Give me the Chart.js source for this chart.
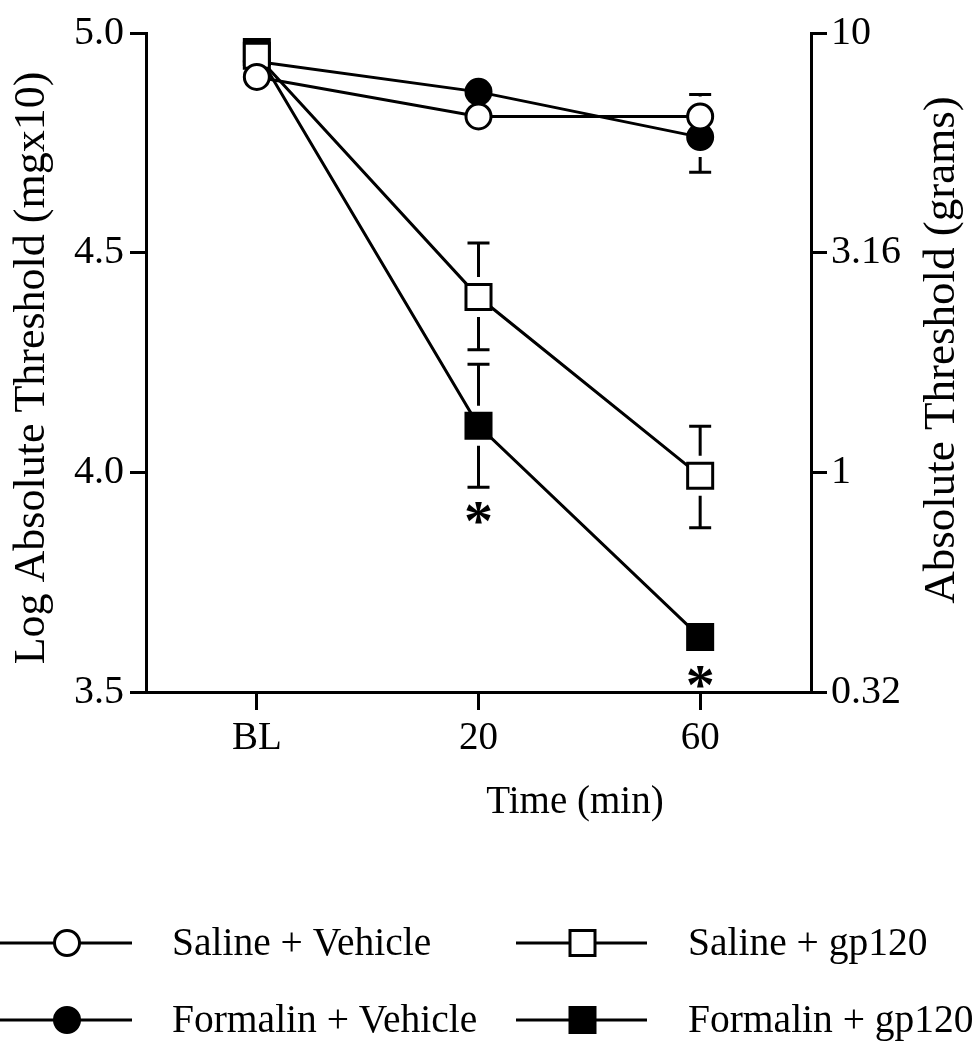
<!DOCTYPE html>
<html>
<head>
<meta charset="utf-8">
<script src="https://cdn.jsdelivr.net/npm/chart.js@4.4.0/dist/chart.umd.min.js"></script>
<style>
  html, body { margin: 0; padding: 0; background: #fff; }
  canvas { display: block; }
</style>
</head>
<body>
<canvas id="chart" width="975" height="1050"></canvas>
<script>
// values (error bars: only the visible halves)
const timeLabels = ['BL', '20', '60'];
const salineVehicle = [4.90, 4.81, 4.81];
const salineVehicleErrUp = [0, 0, 0.05];
const salineVehicleErrDown = [0, 0, 0];
const formalinVehicle = [4.935, 4.866, 4.763];
const formalinVehicleErrUp = [0, 0, 0];
const formalinVehicleErrDown = [0, 0, 0.08];
const salineGp120 = [4.948, 4.399, 3.992];
const salineGp120ErrUp = [0, 0.123, 0.113];
const salineGp120ErrDown = [0, 0.12, 0.118];
const formalinGp120 = [4.957, 4.106, 3.625];
const formalinGp120ErrUp = [0, 0.14, 0];
const formalinGp120ErrDown = [0, 0.14, 0];
const starredPoints = [1, 2]; // Formalin + gp120, marked *
const leftTicks = [3.5, 4.0, 4.5, 5.0];
const rightTickLabels = ['0.32', '1', '3.16', '10'];

const serif = '"Liberation Serif", "Times New Roman", serif';
const W = 975, H = 1050;
const plotLeft = 146, plotRight = 811, plotTop = 33, plotBottom = 692;

const makeSet = (label, data, up, down, style, fill, radius) => ({
  label: label,
  data: data,
  errUp: up,
  errDown: down,
  borderColor: '#000',
  borderWidth: 3,
  tension: 0,
  pointStyle: style,
  pointRadius: radius,
  pointBackgroundColor: fill,
  pointBorderColor: '#000',
  pointBorderWidth: 3,
  fill: false
});

const datasets = [
  makeSet('Saline + Vehicle', salineVehicle, salineVehicleErrUp, salineVehicleErrDown, 'circle', '#fff', 12.5),
  makeSet('Saline + gp120', salineGp120, salineGp120ErrUp, salineGp120ErrDown, 'rect', '#fff', 17.7),
  makeSet('Formalin + gp120', formalinGp120, formalinGp120ErrUp, formalinGp120ErrDown, 'rect', '#000', 17.7),
  makeSet('Formalin + Vehicle', formalinVehicle, formalinVehicleErrUp, formalinVehicleErrDown, 'circle', '#000', 12.5)
];

function marker(ctx, style, fill, x, y) {
  ctx.save();
  ctx.lineWidth = 3;
  ctx.strokeStyle = '#000';
  ctx.fillStyle = fill;
  ctx.beginPath();
  if (style === 'circle') {
    ctx.arc(x, y, 12.5, 0, Math.PI * 2);
  } else {
    ctx.rect(x - 12.5, y - 12.5, 25, 25);
  }
  ctx.fill();
  ctx.stroke();
  ctx.restore();
}

const decorations = {
  id: 'decorations',
  beforeDatasetsDraw(chart) {
    const ctx = chart.ctx;
    const ys = chart.scales.y;
    ctx.save();
    ctx.strokeStyle = '#000';
    ctx.lineWidth = 3;
    chart.data.datasets.forEach((ds, di) => {
      const meta = chart.getDatasetMeta(di);
      ds.data.forEach((v, i) => {
        const pt = meta.data[i];
        const gap = 20;
        [v + ds.errUp[i], v - ds.errDown[i]].forEach(end => {
          const ye = ys.getPixelForValue(end);
          if (Math.abs(ye - pt.y) <= gap) return;
          const dir = ye < pt.y ? -1 : 1;
          ctx.beginPath();
          ctx.moveTo(pt.x, pt.y + dir * gap);
          ctx.lineTo(pt.x, ye);
          ctx.moveTo(pt.x - 11, ye);
          ctx.lineTo(pt.x + 11, ye);
          ctx.stroke();
        });
      });
    });
    ctx.restore();
  },
  afterDraw(chart) {
    const ctx = chart.ctx;
    const ys = chart.scales.y;
    const xs = chart.scales.x;
    ctx.save();
    ctx.fillStyle = '#000';

    // asterisks under Formalin + gp120
    ctx.font = 'bold 58px ' + serif;
    ctx.textAlign = 'center';
    ctx.textBaseline = 'alphabetic';
    const m = ctx.measureText('*');
    starredPoints.forEach(i => {
      const v = formalinGp120[i], e = formalinGp120ErrDown[i];
      const px = xs.getPixelForValue(i);
      const yb = Math.max(ys.getPixelForValue(v - e), ys.getPixelForValue(v) + 14);
      const yc = yb + 26;
      ctx.fillText('*', px, yc + (m.actualBoundingBoxAscent - m.actualBoundingBoxDescent) / 2);
    });

    // axis titles
    ctx.font = '39px ' + serif;
    ctx.textBaseline = 'middle';
    ctx.fillText('Time (min)', 575, 803);

    ctx.font = '44px ' + serif;
    ctx.save();
    ctx.translate(32, 368);
    ctx.rotate(-Math.PI / 2);
    ctx.fillText('Log Absolute Threshold (mgx10)', 0, 0);
    ctx.restore();
    ctx.save();
    ctx.translate(942, 350);
    ctx.rotate(-Math.PI / 2);
    ctx.font = '45px ' + serif;
    ctx.fillText('Absolute Threshold (grams)', 0, 0);
    ctx.restore();

    // legend
    const rows = [943, 1020];
    const cols = [{ l: 0, r: 132, t: 172 }, { l: 516, r: 647, t: 688 }];
    const items = [
      [0, 0, datasets[0]], [1, 0, datasets[1]],
      [0, 1, datasets[3]], [1, 1, datasets[2]]
    ];
    ctx.font = '39.5px ' + serif;
    ctx.textAlign = 'left';
    items.forEach(([c, r, ds]) => {
      const y = rows[r], col = cols[c];
      ctx.beginPath();
      ctx.lineWidth = 3;
      ctx.strokeStyle = '#000';
      ctx.moveTo(col.l, y);
      ctx.lineTo(col.r, y);
      ctx.stroke();
      marker(ctx, ds.pointStyle, ds.pointBackgroundColor, (col.l + col.r) / 2 + 1, y);
      ctx.fillStyle = '#000';
      ctx.fillText(ds.label, col.t, y + 2);
    });
    ctx.restore();
  }
};

const axisCommon = {
  min: 3.5,
  max: 5.0,
  grid: { drawOnChartArea: false, drawTicks: true, tickLength: 16, color: '#000', lineWidth: 3 },
  border: { display: true, color: '#000', width: 3 }
};

new Chart(document.getElementById('chart'), {
  type: 'line',
  data: { labels: timeLabels, datasets: datasets },
  options: {
    responsive: false,
    animation: false,
    devicePixelRatio: 1,
    layout: { padding: { top: plotTop, left: 0, right: 0, bottom: 0 } },
    plugins: { legend: { display: false }, tooltip: { enabled: false } },
    scales: {
      x: {
        type: 'category',
        offset: true,
        grid: { drawOnChartArea: false, drawTicks: true, tickLength: 18, color: '#000', lineWidth: 3 },
        border: { display: true, color: '#000', width: 3 },
        ticks: { color: '#000', font: { family: serif, size: 39 }, padding: 5 },
        afterFit: s => { s.height = H - plotBottom; }
      },
      y: Object.assign({}, axisCommon, {
        position: 'left',
        ticks: { stepSize: 0.5, color: '#000', font: { family: serif, size: 40 }, padding: 6,
          callback: v => v.toFixed(1) },
        afterFit: s => { s.width = plotLeft; }
      }),
      y2: Object.assign({}, axisCommon, {
        position: 'right',
        ticks: { stepSize: 0.5, color: '#000', font: { family: serif, size: 40 }, padding: 4,
          callback: v => rightTickLabels[leftTicks.indexOf(v)] },
        afterFit: s => { s.width = W - plotRight; }
      })
    }
  },
  plugins: [decorations]
});
</script>
</body>
</html>
